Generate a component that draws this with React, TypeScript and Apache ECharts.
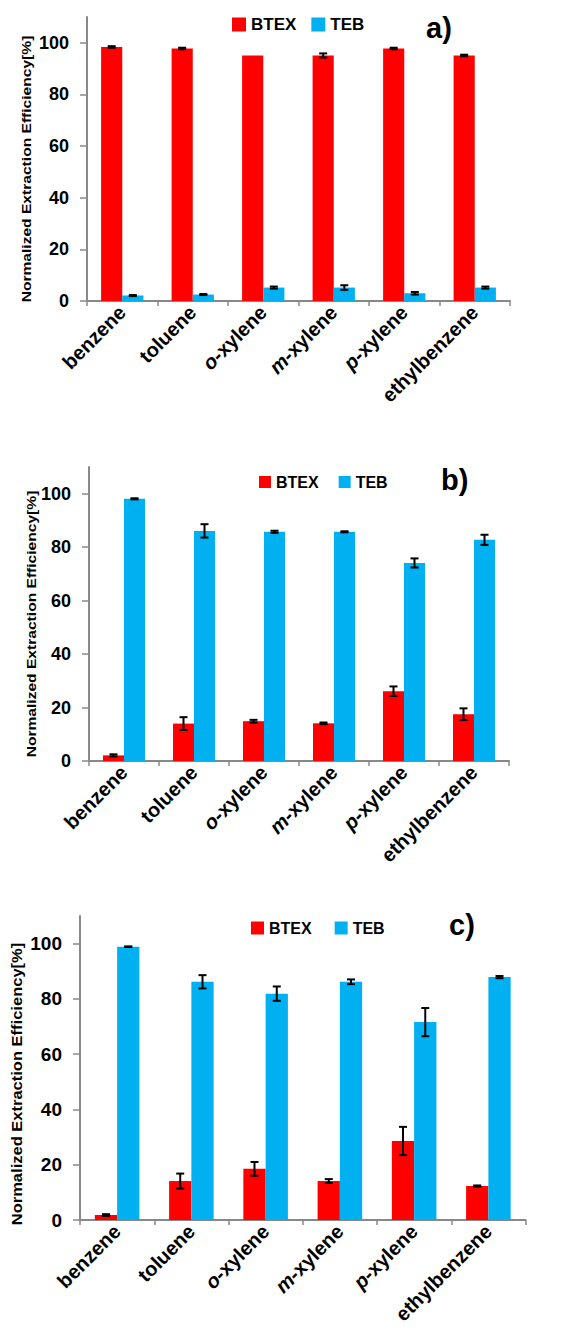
import React, { useEffect, useRef } from "react";
import * as echarts from "echarts";

const categories = ["benzene", "toluene", "o-xylene", "m-xylene", "p-xylene", "ethylbenzene"];
const yTicks = [0, 20, 40, 60, 80, 100];

const btexA = [98.4, 97.8, 95.1, 95.1, 97.8, 95.1];
const btexErrA = [0.3, 0.3, 0, 0.8, 0.3, 0.3];
const tebA = [2.1, 2.5, 5.2, 5.2, 3.0, 5.2];
const tebErrA = [0.2, 0.2, 0.4, 0.9, 0.5, 0.4];

const btexB = [2.1, 14.0, 14.9, 14.1, 26.1, 17.5];
const btexErrB = [0.4, 2.4, 0.5, 0.3, 1.8, 2.2];
const tebB = [98.1, 86.1, 85.75, 85.75, 74.1, 82.75];
const tebErrB = [0.2, 2.5, 0.4, 0.2, 1.7, 1.9];

const btexC = [1.8, 14.1, 18.5, 14.1, 28.6, 12.3];
const btexErrC = [0.3, 2.7, 2.5, 0.7, 5.1, 0.2];
const tebC = [98.9, 86.2, 81.9, 86.2, 71.6, 87.9];
const tebErrC = [0.1, 2.4, 2.6, 0.85, 5.1, 0.4];

const panelLabels = ["a)", "b)", "c)"];
const yName = "Normalized Extraction Efficiency[%]";

const FONT = "'Liberation Sans', Arial, sans-serif";
const RED = "#FF0000";
const BLUE = "#00B0F0";
const AXIS = "#888888";

export default function App() {
  const ref = useRef<HTMLDivElement>(null);
  useEffect(() => {
    document.body.style.margin = "0";
    const chart = echarts.init(ref.current!, null, { renderer: "svg" });

    const panels = [
      { btex: btexA, btexErr: btexErrA, teb: tebA, tebErr: tebErrA,
        grid: { left: 87, top: 17, width: 423, height: 284 },
        yFont: 18, legend: { left: 232, top: 16, icon: 14, font: 17, gap: 15 },
        label: { x: 426, y: 13 }, name: { x: 26.5, y: 169, size: 13, scale: 1.2 } },
      { btex: btexB, btexErr: btexErrB, teb: tebB, tebErr: tebErrB,
        grid: { left: 89, top: 467, width: 420, height: 294 },
        yFont: 18, legend: { left: 259, top: 474, icon: 12, font: 16, gap: 20 },
        label: { x: 441, y: 465 }, name: { x: 31, y: 624, size: 13, scale: 1.2 } },
      { btex: btexC, btexErr: btexErrC, teb: tebC, tebErr: tebErrC,
        grid: { left: 80, top: 916, width: 445.5, height: 304 },
        yFont: 19, legend: { left: 251, top: 920, icon: 13, font: 16, gap: 23 },
        label: { x: 449, y: 910 }, name: { x: 16.5, y: 1084, size: 14, scale: 1.18 } },
    ];

    const grids: any[] = [];
    const xAxes: any[] = [];
    const yAxes: any[] = [];
    const legends: any[] = [];
    const series: any[] = [];
    const graphics: any[] = [];

    const errRender = (offFrac: number) => (params: any, api: any) => {
      const x = api.value(0);
      const v = api.value(1);
      const e = api.value(2);
      if (!e) return null;
      const band = api.size([1, 0])[0];
      const hi = api.coord([x, v + e]);
      const lo = api.coord([x, v - e]);
      const cx = hi[0] + offFrac * band;
      const cap = 4;
      const style = { stroke: "#000", lineWidth: 2 };
      return {
        type: "group",
        children: [
          { type: "line", shape: { x1: cx, y1: hi[1], x2: cx, y2: lo[1] }, style },
          { type: "line", shape: { x1: cx - cap, y1: hi[1], x2: cx + cap, y2: hi[1] }, style },
          { type: "line", shape: { x1: cx - cap, y1: lo[1], x2: cx + cap, y2: lo[1] }, style },
        ],
      };
    };

    panels.forEach((p, i) => {
      grids.push({ ...p.grid, containLabel: false });
      xAxes.push({
        type: "category",
        gridIndex: i,
        data: categories,
        axisLine: { lineStyle: { color: AXIS, width: 2 } },
        axisTick: { show: true, length: 5, lineStyle: { color: AXIS, width: 1.5 } },
        axisLabel: {
          rotate: 45,
          interval: 0,
          margin: 8,
          color: "#000",
          fontFamily: FONT,
          fontWeight: "bold",
          fontSize: 20,
          formatter: (v: string) => {
            const m = v.match(/^([omp])-(.*)$/);
            return m ? `{i|${m[1]}}-${m[2]}` : v;
          },
          rich: { i: { fontStyle: "italic", fontWeight: "bold", fontSize: 20, fontFamily: FONT, color: "#000" } },
        },
        splitLine: { show: false },
      });
      yAxes.push({
        type: "value",
        gridIndex: i,
        min: 0,
        max: 110,
        interval: 20,
        axisLine: { show: true, lineStyle: { color: AXIS, width: 2 } },
        axisTick: { show: true, length: 7, customValues: yTicks, lineStyle: { color: AXIS, width: 1.5 } },
        axisLabel: {
          customValues: yTicks,
          margin: 18,
          color: "#000",
          fontFamily: FONT,
          fontWeight: "bold",
          fontSize: p.yFont,
        },
        splitLine: { show: false },
      });
      legends.push({
        data: ["BTEX", "TEB"],
        left: p.legend.left,
        top: p.legend.top,
        padding: 0,
        icon: "rect",
        itemWidth: p.legend.icon,
        itemHeight: p.legend.icon,
        itemGap: p.legend.gap,
        selectedMode: false,
        textStyle: { fontFamily: FONT, fontWeight: "bold", fontSize: p.legend.font, color: "#000" },
      });
      series.push({
        name: "BTEX", type: "bar", xAxisIndex: i, yAxisIndex: i,
        data: p.btex, barWidth: "30%", barGap: "0%", itemStyle: { color: RED },
      });
      series.push({
        name: "TEB", type: "bar", xAxisIndex: i, yAxisIndex: i,
        data: p.teb, barWidth: "30%", barGap: "0%", itemStyle: { color: BLUE },
      });
      series.push({
        name: "BTEX error", type: "custom", xAxisIndex: i, yAxisIndex: i, z: 5,
        renderItem: errRender(-0.15),
        encode: { x: 0, y: 1 },
        data: p.btex.map((v, k) => [k, v, p.btexErr[k]]),
      });
      series.push({
        name: "TEB error", type: "custom", xAxisIndex: i, yAxisIndex: i, z: 5,
        renderItem: errRender(0.15),
        encode: { x: 0, y: 1 },
        data: p.teb.map((v, k) => [k, v, p.tebErr[k]]),
      });
      graphics.push({
        type: "text",
        x: p.name.x,
        y: p.name.y,
        rotation: Math.PI / 2,
        scaleX: p.name.scale,
        style: {
          text: yName,
          fill: "#000",
          fontFamily: FONT,
          fontWeight: "bold",
          fontSize: p.name.size,
          align: "center",
          verticalAlign: "middle",
        },
      });
      graphics.push({
        type: "text",
        x: p.label.x,
        y: p.label.y,
        style: {
          text: panelLabels[i],
          fill: "#000",
          fontFamily: FONT,
          fontWeight: "bold",
          fontSize: 29,
          align: "left",
          verticalAlign: "top",
        },
      });
    });

    chart.setOption({
      animation: false,
      backgroundColor: "#fff",
      grid: grids,
      xAxis: xAxes,
      yAxis: yAxes,
      legend: legends,
      series,
      graphic: graphics,
    });
    return () => chart.dispose();
  }, []);
  return <div ref={ref} style={{ width: 582, height: 1334 }} />;
}
